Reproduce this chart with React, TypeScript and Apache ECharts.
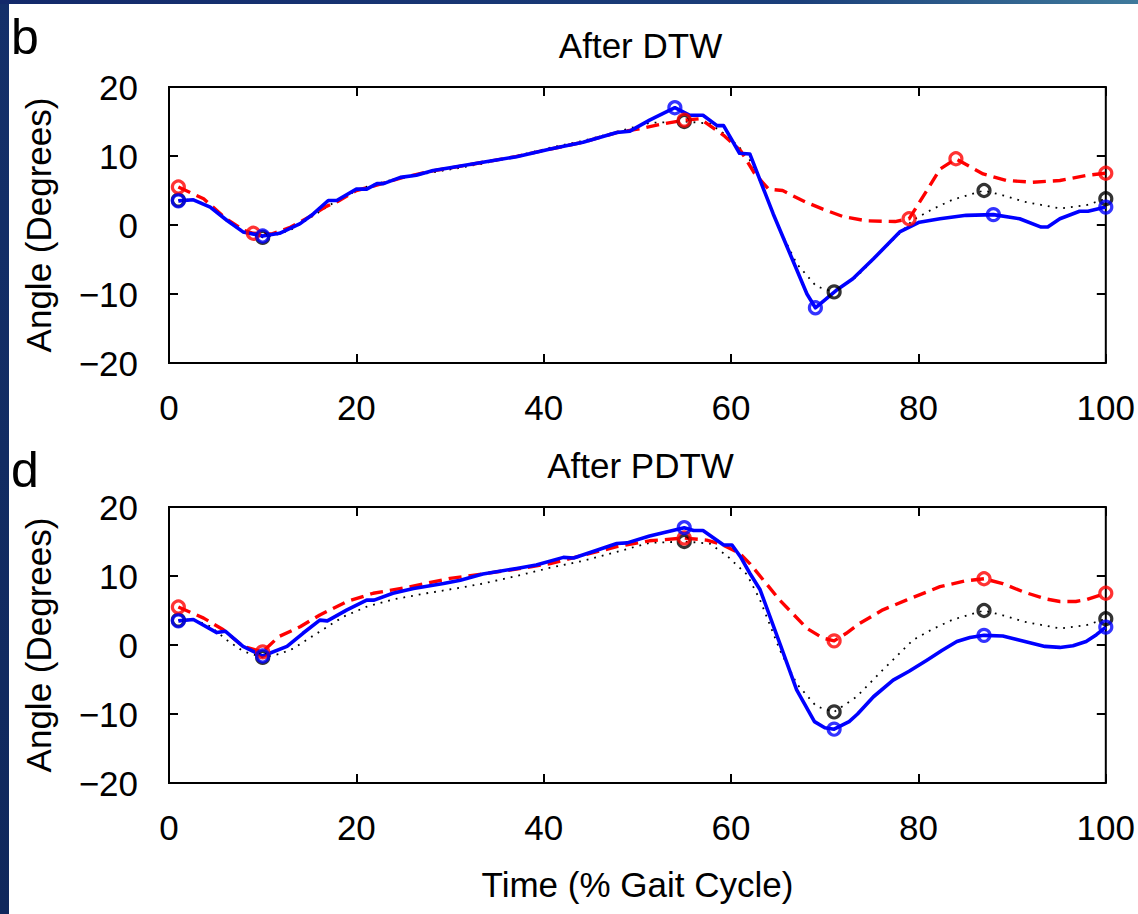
import React, { useEffect, useRef } from "react";
import * as echarts from "echarts";

// Reference (black dotted) knee angle trace, shared by both panels
const refTime = [1, 2.6, 4.4, 6.2, 7.9, 10, 11.8, 13.3, 15.8, 18.6, 21.1, 23.9, 27.5, 31.1, 33.5, 37.1, 40.7, 44.2, 47.8, 51.3, 55, 57.7, 59.5, 61.7, 63.1, 65.2, 67, 69.1, 71, 73.4, 76.2, 79.4, 81.5, 83.7, 87, 89, 91.2, 95.1, 98, 100];
const refAngle = [3.6, 3.7, 2.7, 0.7, -0.9, -1.8, -1.3, -0.5, 1.7, 4.1, 5.55, 6.6, 7.5, 8.3, 8.9, 10.0, 11.2, 12.2, 13.5, 14.8, 15.0, 14.7, 13.0, 10.2, 6.5, -0.7, -5.6, -8.9, -9.7, -7.5, -3.6, 0.7, 2.3, 3.7, 5.0, 4.3, 3.4, 2.4, 2.9, 3.8];
const refMarkTime = [1, 10, 55, 71, 87, 100];
const refMarkAngle = [3.6, -1.8, 15.0, -9.7, 5.0, 3.8];

// After DTW
const redDtwTime = [1, 3.7, 6, 8, 9, 11, 13, 15, 16.8, 18, 20, 22, 25, 28, 31, 34, 37, 40.7, 44.2, 47.8, 50.5, 52.5, 55, 56.7, 59.2, 61, 62.5, 64, 65.5, 66.5, 68, 69.8, 72, 74.5, 77.5, 79, 80.9, 82.3, 84, 86.9, 89.4, 92.2, 95.1, 98, 100];
const redDtwAngle = [5.5, 3.8, 1.0, -0.8, -1.2, -1.3, -0.3, 1.2, 2.7, 3.4, 5.0, 5.7, 6.9, 7.8, 8.5, 9.2, 9.9, 11.0, 12.0, 13.4, 14.0, 14.6, 15.2, 15.4, 13.0, 10.8, 7.5, 5.2, 5.0, 4.3, 3.3, 2.3, 1.2, 0.6, 0.5, 0.9, 5.0, 8.1, 9.6, 7.4, 6.45, 6.2, 6.45, 7.2, 7.5];
const redDtwMarkTime = [1, 9, 55, 79, 84, 100];
const redDtwMarkAngle = [5.5, -1.2, 15.2, 0.9, 9.6, 7.5];

const blueDtwTime = [1, 2.6, 4.4, 6.2, 7.9, 10, 11.8, 14, 15.4, 17, 17.9, 20, 21.1, 22.2, 22.9, 24.7, 26.4, 28.2, 30, 33.5, 37.1, 40.7, 44.2, 47.8, 49.2, 51.3, 54, 55.6, 57, 58.5, 59.2, 60.9, 62, 64.5, 66.3, 68.1, 69, 71.2, 73, 75.2, 78, 80.1, 82.3, 85.1, 88, 90.8, 93.1, 93.8, 95.1, 97.2, 98.1, 100];
const blueDtwAngle = [3.5, 3.65, 2.6, 0.65, -1.0, -1.6, -1.2, 0.2, 1.6, 3.55, 3.55, 5.2, 5.2, 6.0, 6.0, 6.9, 7.2, 7.9, 8.3, 9.1, 9.9, 11.0, 12.0, 13.4, 13.6, 15.2, 17.0, 15.9, 15.9, 14.4, 14.4, 10.4, 10.3, 1.6, -4.2, -10.0, -12.0, -9.5, -7.8, -4.9, -1.0, 0.4, 0.9, 1.4, 1.5, 0.9, -0.3, -0.3, 0.9, 2.0, 2.0, 2.6];
const blueDtwMarkTime = [1, 10, 54, 69, 88, 100];
const blueDtwMarkAngle = [3.5, -1.6, 17.0, -12.0, 1.5, 2.6];

// After PDTW
const redPdtwTime = [1, 3.7, 5.8, 7.9, 10, 11.7, 14, 16.1, 19, 21.8, 25.4, 30, 33.5, 37.1, 40.7, 44.2, 47.8, 51.3, 55, 57.4, 59, 60.9, 62, 65.2, 68.1, 69.8, 71, 72.3, 73.7, 76.2, 78.7, 82.3, 85, 87, 89, 91.2, 93.5, 95.1, 96.8, 98, 100];
const redPdtwAngle = [5.5, 3.9, 2.2, -0.2, -1.0, 1.2, 2.65, 4.35, 6.3, 7.5, 8.35, 9.65, 10.3, 11.0, 11.8, 13.0, 14.25, 15.1, 15.5, 15.2, 14.6, 13.3, 11.8, 6.5, 2.4, 1.0, 0.6, 1.7, 3.1, 5.1, 6.5, 8.45, 9.3, 9.6, 8.9, 7.7, 6.7, 6.3, 6.3, 6.6, 7.5];
const redPdtwMarkTime = [1, 10, 55, 71, 87, 100];
const redPdtwMarkAngle = [5.5, -1.0, 15.5, 0.6, 9.6, 7.5];

const bluePdtwTime = [1, 2.6, 5.1, 6.0, 7.9, 10, 12.6, 14.3, 16.1, 16.9, 19, 21.1, 21.9, 23.9, 26.1, 29.3, 31.1, 33.5, 37.1, 39.2, 42.1, 43.2, 47.8, 48.9, 51.3, 55, 56, 57, 59.2, 60.1, 61, 62, 63.1, 65.2, 67, 68.9, 70, 71, 72.6, 73.5, 75.2, 77.3, 79, 80.9, 82.5, 84.1, 85.5, 87, 89, 90.5, 92, 93.5, 95.1, 96.5, 97.9, 99, 100];
const bluePdtwAngle = [3.5, 3.7, 1.8, 2.0, -0.2, -1.6, -0.2, 1.7, 3.6, 3.5, 5.1, 6.5, 6.5, 7.5, 8.2, 8.9, 9.4, 10.3, 11.1, 11.6, 12.7, 12.6, 14.7, 14.8, 15.8, 17.0, 16.6, 16.6, 14.5, 14.5, 12.8, 10.4, 8.0, 0.25, -6.5, -11.1, -12.0, -12.2, -11.1, -10.0, -7.5, -5.1, -3.8, -2.2, -0.8, 0.5, 1.1, 1.4, 1.3, 0.8, 0.3, -0.2, -0.35, -0.1, 0.5, 1.5, 2.6];
const bluePdtwMarkTime = [1, 10, 55, 71, 87, 100];
const bluePdtwMarkAngle = [3.5, -1.6, 17.0, -12.2, 1.4, 2.6];

const xTicks = [0, 20, 40, 60, 80, 100];
const yTicks = [-20, -10, 0, 10, 20];
const panelTitles = ["After DTW", "After PDTW"];
const panelLetters = ["b", "d"];

const FONT = "'Liberation Sans', Arial, Helvetica, sans-serif";
const zip = (xs: number[], ys: number[]) => xs.map((x, i) => [x, ys[i]]);
const signed = (v: number) => (v < 0 ? "\u2212" + Math.abs(v) : String(v));

const GRID_LEFT = 169;
const GRID_WIDTH = 937;
const GRID_HEIGHT = 276;
const GRID_TOPS = [87, 507];
const LABEL_SIZE = 35;

function xAxisFor(gridIndex: number, position: "bottom" | "top") {
  return {
    type: "value",
    gridIndex,
    position,
    min: xTicks[0],
    max: xTicks[xTicks.length - 1],
    interval: xTicks[1] - xTicks[0],
    axisLine: { show: false, onZero: false },
    axisTick: { show: true, inside: true, length: 9, lineStyle: { color: "#000", width: 2 } },
    axisLabel: { show: position === "bottom", fontSize: LABEL_SIZE, color: "#000", fontFamily: FONT, margin: 27, formatter: signed },
    splitLine: { show: false },
  };
}

function yAxisFor(gridIndex: number, position: "left" | "right") {
  return {
    type: "value",
    gridIndex,
    position,
    min: yTicks[0],
    max: yTicks[yTicks.length - 1],
    interval: yTicks[1] - yTicks[0],
    axisLine: { show: false, onZero: false },
    axisTick: { show: true, inside: true, length: 9, lineStyle: { color: "#000", width: 2 } },
    axisLabel: { show: position === "left", fontSize: LABEL_SIZE, color: "#000", fontFamily: FONT, margin: 31, formatter: signed },
    splitLine: { show: false },
  };
}

function lineSeries(axis: number, data: number[][], color: string, width: number, type: any, z: number) {
  return {
    type: "line",
    xAxisIndex: axis,
    yAxisIndex: axis,
    data,
    showSymbol: false,
    symbol: "none",
    lineStyle: { color, width, type, cap: "butt", join: "round" },
    z,
    silent: true,
  };
}

function markerSeries(axis: number, data: number[][], color: string, z: number) {
  return {
    type: "scatter",
    xAxisIndex: axis,
    yAxisIndex: axis,
    data,
    symbol: "circle",
    symbolSize: 12,
    clip: false,
    itemStyle: { color: "rgba(0,0,0,0)", borderColor: color, borderWidth: 3.2 },
    z,
    silent: true,
  };
}

export default function App() {
  const ref = useRef<HTMLDivElement>(null);

  useEffect(() => {
    if (!ref.current) return;
    const chart = echarts.init(ref.current, undefined, { renderer: "svg" });

    const panels = [
      { red: zip(redDtwTime, redDtwAngle), redM: zip(redDtwMarkTime, redDtwMarkAngle), blue: zip(blueDtwTime, blueDtwAngle), blueM: zip(blueDtwMarkTime, blueDtwMarkAngle) },
      { red: zip(redPdtwTime, redPdtwAngle), redM: zip(redPdtwMarkTime, redPdtwMarkAngle), blue: zip(bluePdtwTime, bluePdtwAngle), blueM: zip(bluePdtwMarkTime, bluePdtwMarkAngle) },
    ];
    const refData = zip(refTime, refAngle);
    const refMarks = zip(refMarkTime, refMarkAngle);

    const series: any[] = [];
    panels.forEach((p, i) => {
      series.push(lineSeries(i, refData, "#000", 1.8, [1.8, 6], 2));
      series.push(lineSeries(i, p.red, "#ff0000", 3.4, [13, 7], 3));
      series.push(lineSeries(i, p.blue, "#0000ff", 3.6, "solid", 4));
      series.push(markerSeries(i, refMarks, "#000", 5));
      series.push(markerSeries(i, p.redM, "#ff0000", 6));
      series.push(markerSeries(i, p.blueM, "#0000ff", 7));
    });

    const texts: any[] = [];
    GRID_TOPS.forEach((top, i) => {
      texts.push({
        type: "text",
        x: GRID_LEFT + GRID_WIDTH / 2 + 3,
        y: top - 42,
        style: { text: panelTitles[i], fontSize: LABEL_SIZE, fontFamily: FONT, fill: "#000", textAlign: "center", textVerticalAlign: "middle" },
      });
      texts.push({
        type: "text",
        x: 11,
        y: top - 50 + i * 13,
        style: { text: panelLetters[i], fontSize: 50, fontFamily: FONT, fill: "#000", textAlign: "left", textVerticalAlign: "middle" },
      });
      texts.push({
        type: "text",
        x: 38,
        y: top + GRID_HEIGHT / 2,
        rotation: Math.PI / 2,
        style: { text: "Angle (Degrees)", fontSize: LABEL_SIZE, fontFamily: FONT, fill: "#000", textAlign: "center", textVerticalAlign: "middle" },
      });
    });
    texts.push({
      type: "text",
      x: GRID_LEFT + GRID_WIDTH / 2,
      y: 884,
      style: { text: "Time (% Gait Cycle)", fontSize: LABEL_SIZE, fontFamily: FONT, fill: "#000", textAlign: "center", textVerticalAlign: "middle" },
    });

    chart.setOption({
      animation: false,
      backgroundColor: "#ffffff",
      textStyle: { fontFamily: FONT },
      grid: GRID_TOPS.map((top) => ({
        left: GRID_LEFT,
        top,
        width: GRID_WIDTH,
        height: GRID_HEIGHT,
        show: true,
        borderColor: "#000",
        borderWidth: 2,
        backgroundColor: "rgba(0,0,0,0)",
      })),
      xAxis: [xAxisFor(0, "bottom"), xAxisFor(1, "bottom"), xAxisFor(0, "top"), xAxisFor(1, "top")],
      yAxis: [yAxisFor(0, "left"), yAxisFor(1, "left"), yAxisFor(0, "right"), yAxisFor(1, "right")],
      series,
      graphic: [
        {
          type: "rect",
          shape: { x: 0, y: 0, width: 9, height: 914 },
          style: {
            fill: new echarts.graphic.LinearGradient(0, 0, 0, 1, [
              { offset: 0, color: "#14306a" },
              { offset: 1, color: "#10285c" },
            ]),
          },
          z: 100,
        },
        {
          type: "rect",
          shape: { x: 0, y: 0, width: 1138, height: 4 },
          style: {
            fill: new echarts.graphic.LinearGradient(0, 0, 1, 0, [
              { offset: 0, color: "#13296a" },
              { offset: 0.7, color: "#1b3f7a" },
              { offset: 1, color: "#3f7a9c" },
            ]),
          },
          z: 100,
        },
        ...texts,
      ],
    });

    return () => chart.dispose();
  }, []);

  return (
    <div
      ref={ref}
      style={{ position: "fixed", left: 0, top: 0, width: 1138, height: 914, background: "#fff" }}
    />
  );
}
